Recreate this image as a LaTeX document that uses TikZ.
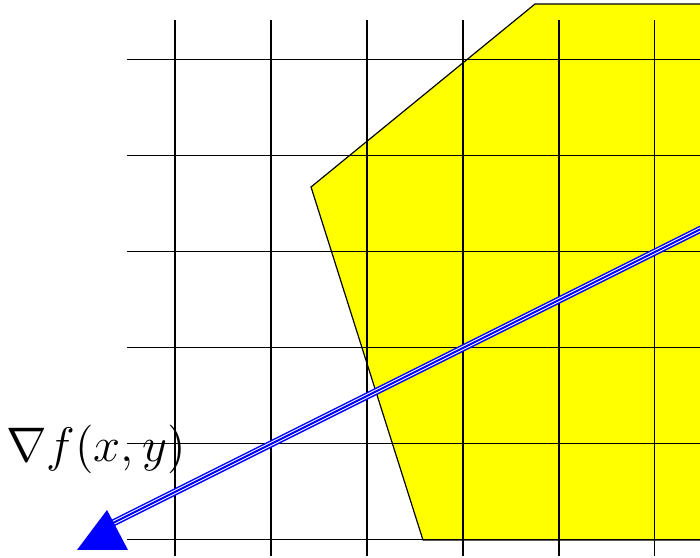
\documentclass[tikz,border=0pt]{standalone}
\usetikzlibrary{positioning}

\tikzset{
  gridline/.style={black,line width=0.3pt},
  gradline/.style={blue,line width=0.45pt,double=white,double distance=1.2pt}
}

\begin{document}
\begin{tikzpicture}[x=1cm,y=1cm]
\useasboundingbox (-1.823,-0.1875) rectangle (5.469,5.625);
\clip (-1.823,-0.1875) rectangle (5.469,5.625);

% feasible region
\draw[black,line width=0.35pt,fill={rgb,1:red,1;green,1;blue,0}] (3.75,5.583) -- (1.417,3.677) -- (2.583,0) -- (6,0) -- (6,5.583) -- cycle;

% grid
\foreach \i in {0,...,5}
  \draw[gridline] (\i,-0.17) -- (\i,5.42);
\foreach \j in {0,...,5}
  \draw[gridline] (-0.5,\j) -- (5.6,\j);

% gradient
\coordinate (gradtail) at (5.6,3.3);
\coordinate (gradhead) at (-0.74,0.13);
\draw[gradline] (gradtail) -- (gradhead);
\draw[blue,line width=0.6pt] (gradtail) -- (gradhead);
\fill[blue] (-1.021,-0.104) -- (-0.708,0.3125) -- (-0.490,-0.104) -- cycle;
\node[font=\Large] (gradlabel) at (-0.823,0.948) {$\nabla f(x,y)$};

\end{tikzpicture}
\end{document}
